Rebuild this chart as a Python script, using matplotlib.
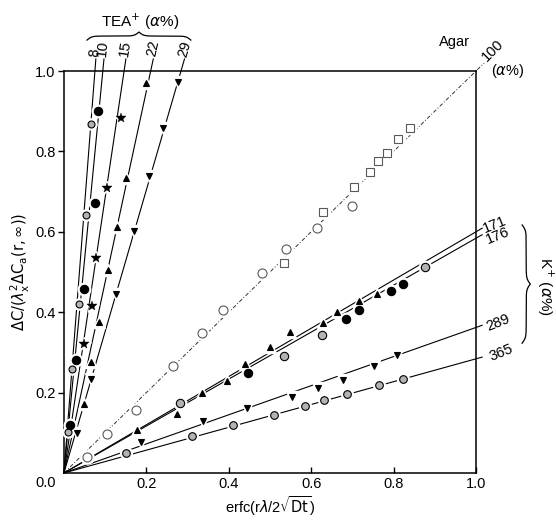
import numpy as np
import matplotlib
matplotlib.use("Agg")
import matplotlib.pyplot as plt

plt.rcParams['font.family'] = ['Liberation Sans', 'DejaVu Sans']
plt.rcParams['mathtext.fontset'] = 'dejavusans'

# ---- data ----
# TEA+ series (alpha %): 8, 10, 15, 22, 29
tea8_x = [0.010, 0.019, 0.036, 0.053, 0.066]
tea8_y = [0.102, 0.259, 0.420, 0.642, 0.868]
tea10_x = [0.015, 0.029, 0.049, 0.075, 0.083]
tea10_y = [0.120, 0.281, 0.457, 0.672, 0.900]
tea15_x = [0.049, 0.068, 0.078, 0.104, 0.138]
tea15_y = [0.321, 0.415, 0.535, 0.709, 0.883]
tea22_x = [0.049, 0.066, 0.085, 0.107, 0.129, 0.150, 0.200]
tea22_y = [0.172, 0.276, 0.376, 0.505, 0.612, 0.734, 0.970]
tea29_x = [0.032, 0.066, 0.126, 0.170, 0.206, 0.240, 0.277]
tea29_y = [0.100, 0.234, 0.445, 0.602, 0.739, 0.858, 0.973]
tea_slopes = [13.3, 10.6, 6.85, 4.75, 3.52]
tea_labels = ['8', '10', '15', '22', '29']

# Agar (100 %)
agar_circ_x = [0.056, 0.104, 0.175, 0.265, 0.335, 0.386, 0.481, 0.539, 0.614, 0.699]
agar_circ_y = [0.040, 0.097, 0.157, 0.266, 0.348, 0.405, 0.498, 0.558, 0.609, 0.664]
agar_sq_x = [0.534, 0.630, 0.704, 0.743, 0.763, 0.784, 0.810, 0.840]
agar_sq_y = [0.522, 0.650, 0.712, 0.749, 0.776, 0.795, 0.832, 0.858]
agar_slope = 1.0

# K+ series (alpha %): 171, 176, 289, 365
k171_x = [0.177, 0.274, 0.335, 0.395, 0.440, 0.500, 0.548, 0.628, 0.663, 0.716, 0.759]
k171_y = [0.107, 0.146, 0.198, 0.230, 0.271, 0.313, 0.351, 0.373, 0.400, 0.428, 0.445]
k176_fill_x = [0.447, 0.684, 0.716, 0.794, 0.823]
k176_fill_y = [0.249, 0.383, 0.405, 0.453, 0.470]
k176_gray_x = [0.282, 0.534, 0.626, 0.876]
k176_gray_y = [0.174, 0.291, 0.344, 0.512]
k289_x = [0.187, 0.337, 0.444, 0.553, 0.617, 0.677, 0.752, 0.808]
k289_y = [0.077, 0.129, 0.162, 0.189, 0.211, 0.231, 0.266, 0.294]
k365_x = [0.150, 0.310, 0.410, 0.510, 0.585, 0.631, 0.687, 0.765, 0.823]
k365_y = [0.050, 0.092, 0.119, 0.144, 0.167, 0.182, 0.197, 0.219, 0.234]
k_slopes = [0.600, 0.584, 0.362, 0.284]
k_labels = ['171', '176', '289', '365']

fig = plt.figure(figsize=(5.56, 5.2), dpi=100)
ax = fig.add_axes([0.115, 0.0904, 0.741, 0.773])
ax.set_xlim(0, 1.0)
ax.set_ylim(0, 1.0)


def pts(x, y, marker, ms, fc, ec='k', mew=0.8):
    # white halo so the line looks broken at each marker
    ax.plot(x, y, ls='none', marker=marker, ms=ms + 3, mfc='white', mec='white',
            zorder=3, clip_on=False)
    ax.plot(x, y, ls='none', marker=marker, ms=ms, mfc=fc, mec=ec, mew=mew,
            zorder=4, clip_on=False)


def brace(a, b, base, h, vertical=False):
    t = np.linspace(0, 1, 200)
    s = 1 / (1 + np.exp(-22 * t)) + 1 / (1 + np.exp(-22 * (t - 1))) - 0.5
    pos = np.concatenate([a + t * (b - a) / 2, a + (b - a) / 2 + t * (b - a) / 2])
    val = base + h * np.concatenate([s, s[::-1]])
    if vertical:
        ax.plot(val, pos, color='k', lw=0.9, clip_on=False)
    else:
        ax.plot(pos, val, color='k', lw=0.9, clip_on=False)


# TEA lines
tea_top = 1.03
for sl, lab in zip(tea_slopes, tea_labels):
    xe = tea_top / sl
    ax.plot([0, xe], [0, tea_top], color='k', lw=0.8, zorder=2, clip_on=False)
    ang = np.degrees(np.arctan2(sl * 402, 412))
    ax.text(xe - 0.004, tea_top + 0.006, lab, rotation=ang, rotation_mode='anchor',
            ha='left', va='center', fontsize=10.5)

pts(tea8_x, tea8_y, 'o', 5, '0.7')
pts(tea10_x, tea10_y, 'o', 6, 'k')
pts(tea15_x, tea15_y, '*', 7, 'k', mew=0.3)
pts(tea22_x, tea22_y, '^', 5, 'k')
pts(tea29_x, tea29_y, 'v', 5, 'k')

# Agar line
ax.plot([0, 1.02], [0, 1.02 * agar_slope], color='0.2', lw=0.7,
        ls=(0, (4, 2, 1, 2)), zorder=2, clip_on=False)
pts(agar_circ_x, agar_circ_y, 'o', 6.5, 'white', ec='0.35')
pts(agar_sq_x, agar_sq_y, 's', 6, 'white', ec='0.35')

# K lines
k_end = 1.015
for sl in k_slopes:
    ax.plot([0, k_end], [0, sl * k_end], color='k', lw=0.8, zorder=2, clip_on=False)

pts(k171_x, k171_y, '^', 5, 'k')
pts(k176_fill_x, k176_fill_y, 'o', 6, 'k')
pts(k176_gray_x, k176_gray_y, 'o', 6, '0.7')
pts(k289_x, k289_y, 'v', 5, 'k')
pts(k365_x, k365_y, 'o', 5.5, '0.7')

k_lab_pos = [(1.046, 0.617), (1.053, 0.590), (1.053, 0.373), (1.061, 0.300)]
for (tx, ty), lab in zip(k_lab_pos, k_labels):
    ax.text(tx, ty, lab, rotation=22, ha='center', va='center', fontsize=10.5)

# annotations
ax.text(0.184, 1.122, 'TEA$^{+}$ ($\\alpha$%)', ha='center', va='center', fontsize=11)
brace(0.056, 0.308, 1.077, 0.02)
ax.text(0.949, 1.072, 'Agar', ha='center', va='center', fontsize=10.5)
ax.text(1.041, 1.052, '100', rotation=45, ha='center', va='center', fontsize=10.5)
ax.text(1.078, 1.000, '($\\alpha$%)', ha='center', va='center', fontsize=10.5)
brace(0.323, 0.617, 1.112, 0.02, vertical=True)
ax.text(1.167, 0.465, 'K$^{+}$ ($\\alpha$%)', rotation=-90, ha='center', va='center',
        fontsize=11)

# axes styling
for sp in ax.spines.values():
    sp.set_linewidth(1.1)
ax.set_xticks([0.2, 0.4, 0.6, 0.8, 1.0])
ax.set_xticklabels(['0.2', '0.4', '0.6', '0.8', '1.0'])
ax.set_yticks([0.2, 0.4, 0.6, 0.8, 1.0])
ax.set_yticklabels(['0.2', '0.4', '0.6', '0.8', '1.0'])
ax.tick_params(axis='x', direction='in', length=4, width=1, labelsize=10.5, pad=3)
ax.tick_params(axis='y', direction='out', length=4, width=1, labelsize=10.5, pad=2)
ax.text(-0.044, -0.008, '0.0', ha='center', va='top', fontsize=10.5)

ax.set_xlabel('erfc(r$\\lambda$/2$\\sqrt{\\mathrm{Dt}}$)', fontsize=10.5, labelpad=2)
ax.set_ylabel('$\\Delta\\mathrm{C}/(\\lambda^{2}_{\\mathrm{x}}\\Delta\\mathrm{C}_{\\mathrm{a}}(\\mathrm{r},\\infty))$',
              fontsize=10.5, labelpad=2)

fig.savefig('out.png', dpi=100)
